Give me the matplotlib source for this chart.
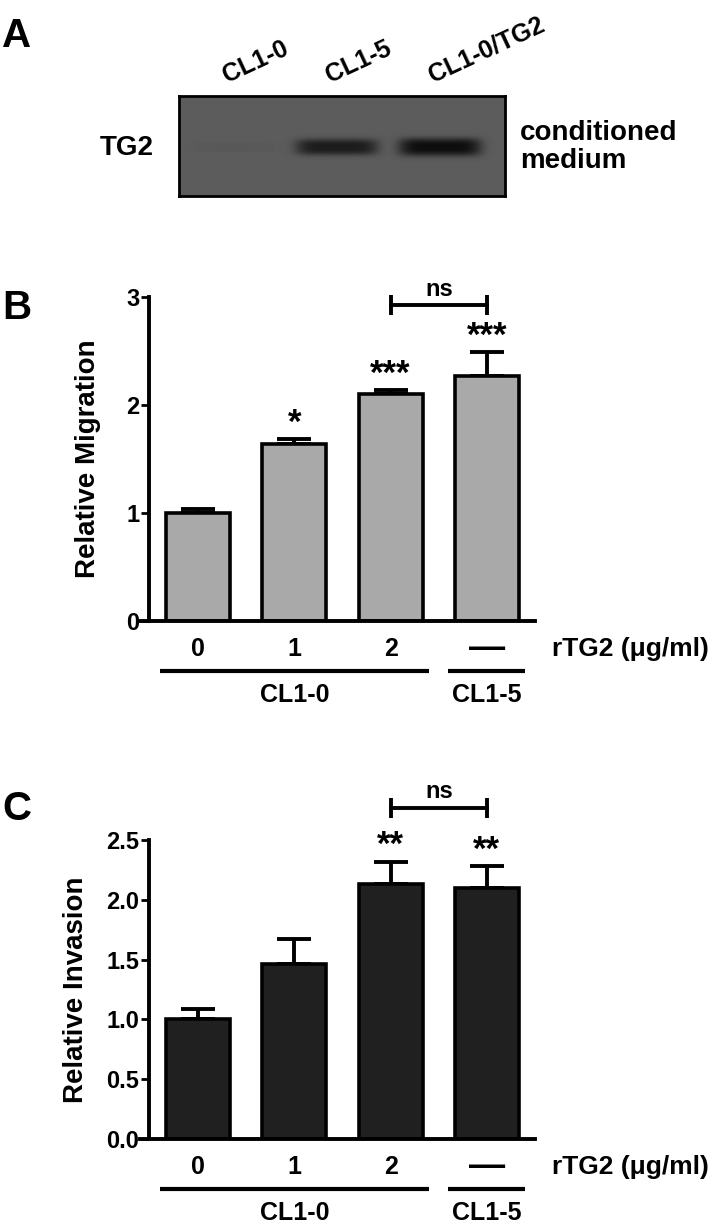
import numpy as np
import matplotlib
matplotlib.use("Agg")
import matplotlib.pyplot as plt
from matplotlib.transforms import ScaledTranslation

plt.rcParams['font.family'] = ['Liberation Sans', 'DejaVu Sans']
plt.rcParams['font.weight'] = 'bold'

# panel A: western blot of conditioned medium
lanes = ["CL1-0", "CL1-5", "CL1-0/TG2"]
band_strength = [0.04, 0.78, 0.97]

# panels B and C
doses = ["0", "1", "2", "—"]
cell_groups = ["CL1-0", "CL1-0", "CL1-0", "CL1-5"]
migration = [1.00, 1.64, 2.10, 2.27]
migration_sem = [0.04, 0.04, 0.04, 0.22]
migration_sig = ["", "*", "***", "***"]
invasion = [1.00, 1.46, 2.13, 2.10]
invasion_sem = [0.09, 0.21, 0.19, 0.18]
invasion_sig = ["", "", "**", "**"]

W, H = 722, 1226
fig = plt.figure(figsize=(W / 100, H / 100), dpi=100)


def px_box(x0, y0, x1, y1):
    # pixel box (top-left origin) -> figure fraction rect
    return [x0 / W, 1 - y1 / H, (x1 - x0) / W, (y1 - y0) / H]


# ---------------- A ----------------
axA = fig.add_axes(px_box(179, 96, 505, 196))
bw, bh = 326, 100
X, Y = np.meshgrid(np.arange(bw) + 0.5, np.arange(bh) + 0.5)
img = np.full(X.shape, 0.36)
for i, s in enumerate(band_strength):
    cx = 55 + 103 * i
    hh = 5 + 4 * s
    dark = s * np.exp(-((X - cx) / 41) ** 6) * np.exp(-np.abs((Y - 51) / hh) ** 3)
    img = img - 0.32 * dark
axA.imshow(img, cmap='gray', vmin=0, vmax=1, extent=[0, bw, bh, 0],
           aspect='auto', interpolation='bilinear')
axA.set_xticks([])
axA.set_yticks([])
for sp in axA.spines.values():
    sp.set_linewidth(2)
for i, lab in enumerate(lanes):
    axA.text(55 + 103 * i - 7, -13, lab, rotation=25, rotation_mode='anchor',
             ha='left', va='baseline', fontsize=18, clip_on=False)
fig.text(127 / W, 1 - 148 / H, "TG2", ha='center', va='center', fontsize=20)
fig.text(520 / W, 1 - 147 / H, "conditioned\nmedium", ha='left', va='center',
         fontsize=20, linespacing=1.15)
fig.text(2 / W, 1 - 47 / H, "A", ha='left', va='baseline', fontsize=29)


# ---------------- B / C ----------------
def bar_panel(rect, values, errs, sig, color, ytop, yticks, yfmt, ylabel, ns_y,
              ylabel_x, letter, letter_y):
    ax = fig.add_axes(rect)
    x = np.arange(len(values))
    ax.bar(x, values, width=0.665, color=color, edgecolor='black',
           linewidth=2.6, zorder=2)
    ax.errorbar(x, values, yerr=[np.zeros(len(errs)), errs], fmt='none',
                ecolor='black', elinewidth=2.8, capsize=12.5, capthick=2.8,
                zorder=1)
    ax.set_xlim(-0.605, 3.5)
    ax.set_ylim(0, ytop)
    ax.spines[['top', 'right']].set_visible(False)
    ax.spines['left'].set_position(('data', -0.51))
    ax.spines['left'].set_linewidth(2.8)
    ax.spines['bottom'].set_linewidth(2.8)
    ax.set_xticks([])
    ax.set_yticks(yticks)
    ax.set_yticklabels([yfmt.format(t) for t in yticks])
    ax.tick_params(axis='y', length=6, width=2, pad=1, labelsize=17)

    def below(p):
        return ax.get_xaxis_transform() + ScaledTranslation(0, -p / 100, fig.dpi_scale_trans)

    for xi, lab in zip(x, doses):
        ax.text(xi, 0, lab, transform=below(28), ha='center', va='center',
                fontsize=26 if lab == "—" else 18)
    ax.text(3.68, 0, "rTG2 (μg/ml)", transform=below(28), ha='left',
            va='center', fontsize=19)

    for name in dict.fromkeys(cell_groups):
        idx = [i for i, g in enumerate(cell_groups) if g == name]
        ax.plot([idx[0] - 0.4, idx[-1] + 0.4], [0, 0], color='black', lw=3,
                transform=below(50), clip_on=False, solid_capstyle='butt')
        ax.text((idx[0] + idx[-1]) / 2, 0, name, transform=below(86),
                ha='center', va='bottom', fontsize=18)

    for xi, v, e, s in zip(x, values, errs, sig):
        if s:
            ax.annotate(s, xy=(xi, v + e), xytext=(0, 4.5),
                        textcoords='offset points', ha='center',
                        va='baseline', fontsize=25, annotation_clip=False)

    ax.plot([2, 3], [ns_y, ns_y], color='black', lw=2.8, marker='|', ms=14,
            mew=2.8, clip_on=False)
    ax.annotate("ns", xy=(2.5, ns_y), xytext=(0, 7), textcoords='offset points',
                ha='center', va='baseline', fontsize=17, annotation_clip=False)

    ax.text(ylabel_x, 0.5, ylabel, transform=ax.transAxes, rotation=90,
            ha='center', va='center', fontsize=20)
    fig.text(2 / W, 1 - letter_y / H, letter, ha='left', va='baseline',
             fontsize=29)
    return ax


bar_panel(px_box(140, 296.7, 535, 621), migration, migration_sem,
          migration_sig, '#a9a9a9', 3, [0, 1, 2, 3], "{:.0f}",
          "Relative Migration", 2.92, -0.132, "B", 319)

bar_panel(px_box(140, 840, 535, 1139), invasion, invasion_sem,
          invasion_sig, '#202020', 2.5, [0, 0.5, 1.0, 1.5, 2.0, 2.5], "{:.1f}",
          "Relative Invasion", 2.77, -0.162, "C", 820)

fig.savefig("out.png", dpi=100)
